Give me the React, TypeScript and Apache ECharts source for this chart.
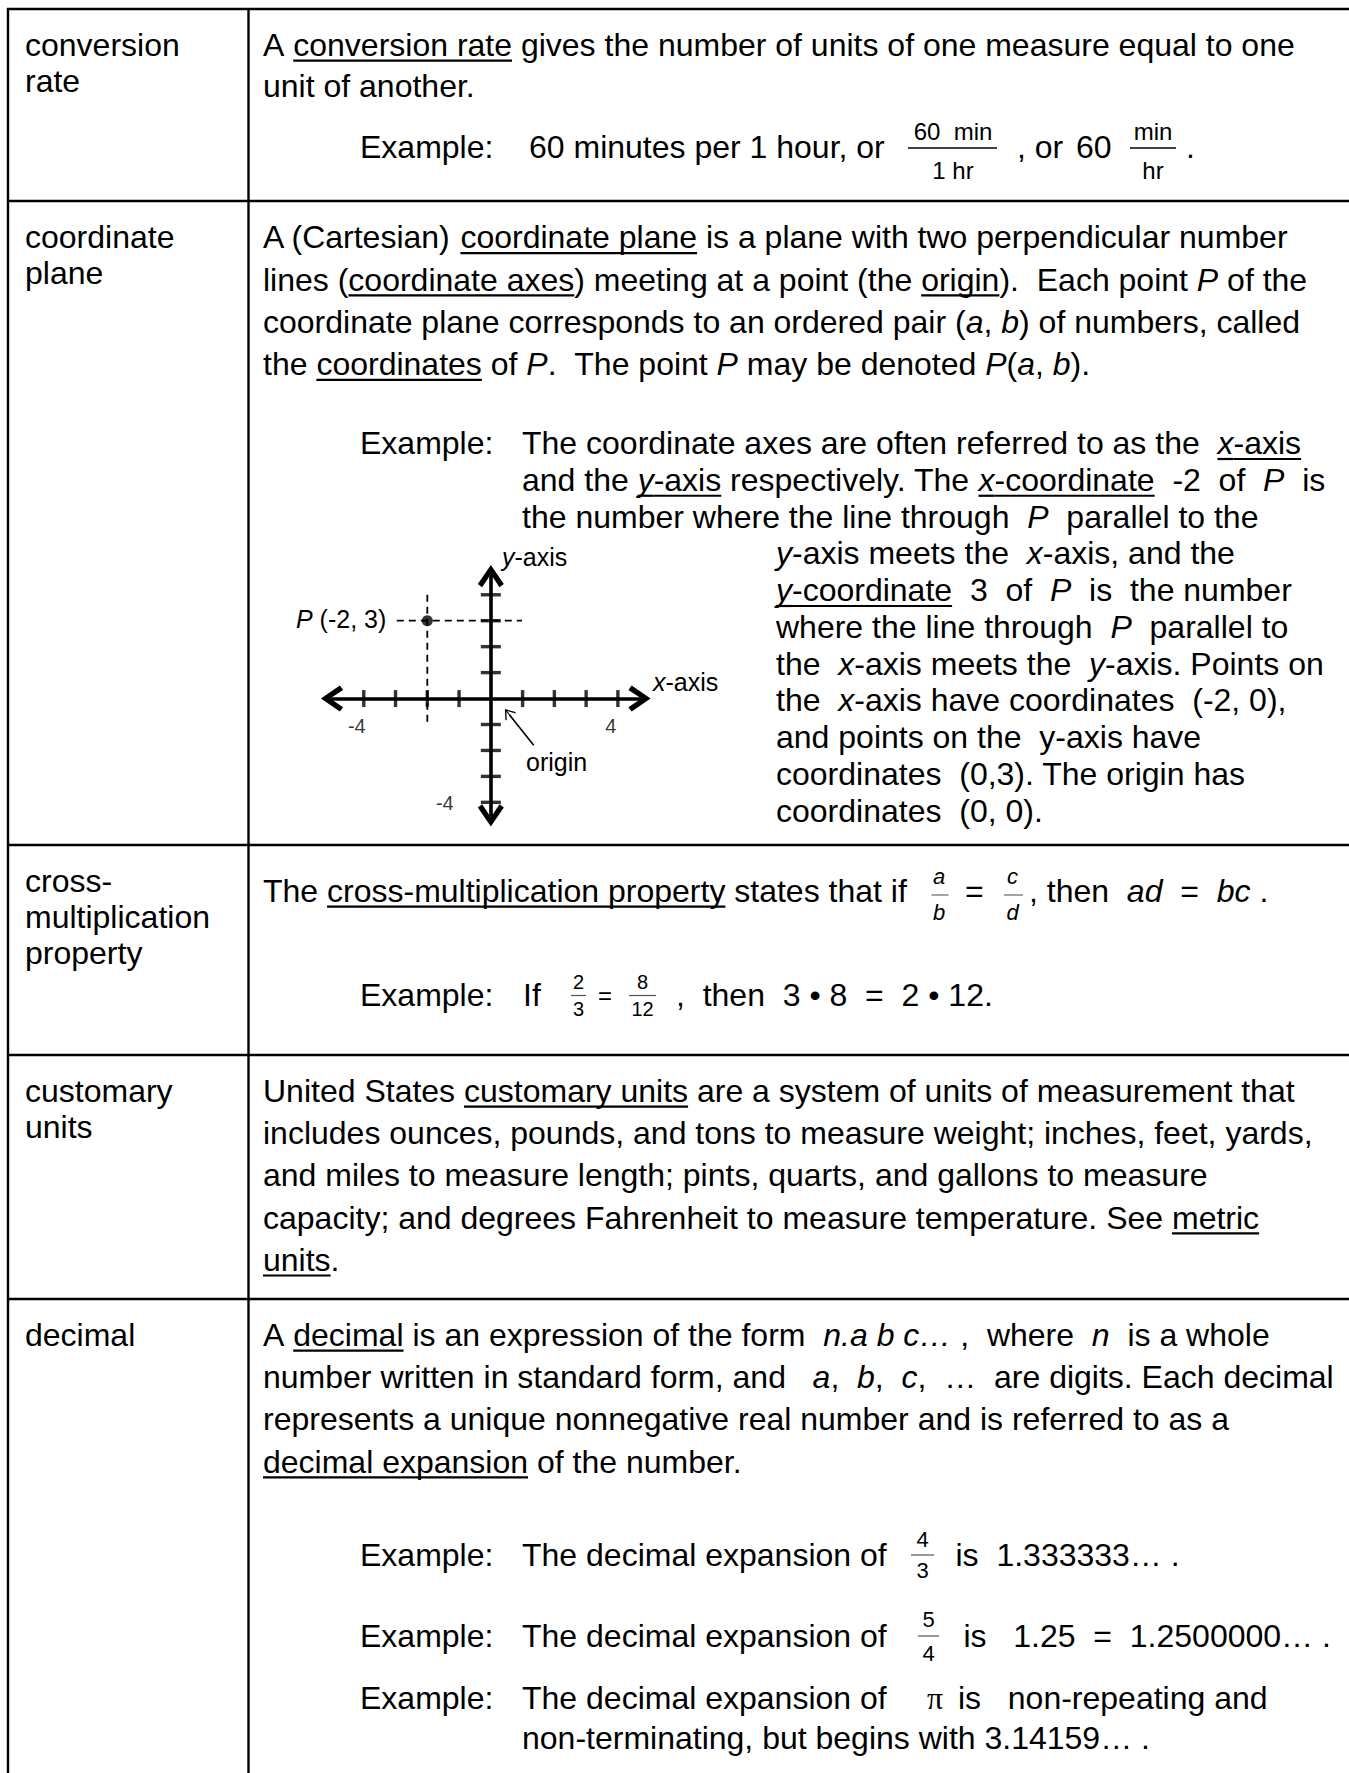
import React, { useEffect, useRef } from 'react';
import * as echarts from 'echarts';

const FONT = '"Liberation Sans", Arial, Helvetica, sans-serif';
const SERIF = '"Liberation Serif", "Times New Roman", serif';

// ---------- content ----------
const TERMS: string[][] = [
  ['conversion', 'rate'],
  ['coordinate', 'plane'],
  ['cross-', 'multiplication', 'property'],
  ['customary', 'units'],
  ['decimal'],
];

const CONVERSION_DEF = [
  'A _conversion rate_ gives the number of units of one measure equal to one',
  'unit of another.',
];
const CONVERSION_EXAMPLE = '60 minutes per 1 hour, or';
const CONVERSION_FRAC1 = ['60  min', '1 hr'];
const CONVERSION_MID = [', or', '60'];
const CONVERSION_FRAC2 = ['min', 'hr'];

const COORD_DEF = [
  'A (Cartesian) _coordinate plane_ is a plane with two perpendicular number',
  'lines (_coordinate axes_) meeting at a point (the _origin_).  Each point *P* of the',
  'coordinate plane corresponds to an ordered pair (*a*, *b*) of numbers, called',
  'the _coordinates_ of *P*.  The point *P* may be denoted *P*(*a*, *b*).',
];
const COORD_EXAMPLE_WIDE = [
  'The coordinate axes are often referred to as the  _*x*-axis_',
  'and the _*y*-axis_ respectively. The _*x*-coordinate_  -2  of  *P*  is',
  'the number where the line through  *P*  parallel to the',
];
const COORD_EXAMPLE_NARROW = [
  '*y*-axis meets the  *x*-axis, and the',
  '_*y*-coordinate_  3  of  *P*  is  the number',
  'where the line through  *P*  parallel to',
  'the  *x*-axis meets the  *y*-axis. Points on',
  'the  *x*-axis have coordinates  (-2, 0),',
  'and points on the  y-axis have',
  'coordinates  (0,3). The origin has',
  'coordinates  (0, 0).',
];
const FIGURE_LABELS = ['*P* (-2, 3)', '*y*-axis', '*x*-axis', 'origin'];

const CROSS_DEF_START = 'The _cross-multiplication property_ states that if';
const CROSS_FRACS = [['a', 'b'], ['c', 'd']];
const CROSS_DEF_END = ', then  *ad*  =  *bc* .';
const CROSS_EXAMPLE_FRACS = [['2', '3'], ['8', '12']];
const CROSS_EXAMPLE_END = ',  then  3 • 8  =  2 • 12.';

const CUSTOMARY_DEF = [
  'United States _customary units_ are a system of units of measurement that',
  'includes ounces, pounds, and tons to measure weight; inches, feet, yards,',
  'and miles to measure length; pints, quarts, and gallons to measure',
  'capacity; and degrees Fahrenheit to measure temperature. See _metric_',
  '_units_.',
];

const DECIMAL_DEF = [
  'A _decimal_ is an expression of the form  *n.a b c…* ,  where  *n*  is a whole',
  'number written in standard form, and   *a*,  *b*,  *c*,  …  are digits. Each decimal',
  'represents a unique nonnegative real number and is referred to as a',
  '_decimal expansion_ of the number.',
];
const DECIMAL_LEAD = 'The decimal expansion of';
const DECIMAL_FRACS = [['4', '3'], ['5', '4']];
const DECIMAL_TAILS = ['is  1.333333… .', 'is   1.25  =  1.2500000… .', 'is   non-repeating and'];
const DECIMAL_PI = 'π';
const DECIMAL_LAST = 'non-terminating, but begins with 3.14159… .';

// ---------- coordinate-plane figure data ----------
const X_TICKS = [-4, -3, -2, -1, 1, 2, 3, 4];
const Y_TICKS = [-4, -3, -2, -1, 1, 2, 3, 4];
const X_LABELS = [-4, 4];
const Y_LABELS = [-4];
const POINT_P = [-2, 3];
const DASH_H = [[-2.96, 3], [0.98, 3]];
const DASH_V = [[-2, 4.0], [-2, -0.9]];
const ORIGIN_ARROW = [[1.35, -1.8], [0.59, -0.63]];

const CHEVRON = 'path://M12 0 L24 17.5 L20 20.5 L12 8.5 L4 20.5 L0 17.5 Z';
const THIN_ARROW =
  'path://M10 0 L20 12 L18.6 13.4 L10 3 L1.4 13.4 L0 12 Z M9.2 1 L10.8 1 L10.8 20 L9.2 20 Z';

export default function App() {
  const ref = useRef<HTMLDivElement>(null);

  useEffect(() => {
    document.body.style.margin = '0';
    const el = ref.current!;
    const chart = echarts.init(el, null, { renderer: 'svg' });

    const ctx = document.createElement('canvas').getContext('2d')!;
    const measure = (s: string, size: number, italic: boolean, family = FONT) => {
      ctx.font = `${italic ? 'italic ' : ''}${size}px ${family}`;
      return ctx.measureText(s).width;
    };

    const G: any[] = [];
    const txt = (
      text: string,
      x: number,
      base: number,
      size: number,
      opt: { italic?: boolean; align?: string; family?: string } = {}
    ) => {
      const align = opt.align || 'left';
      G.push({
        type: 'text',
        silent: true,
        z: 10,
        style: {
          text,
          x,
          y: base - 0.3465 * size,
          fontSize: size,
          fontFamily: opt.family || FONT,
          fontStyle: opt.italic ? 'italic' : 'normal',
          fill: '#000',
          textAlign: align,
          align,
          textVerticalAlign: 'middle',
          verticalAlign: 'middle',
        },
      });
    };
    const hline = (x1: number, x2: number, y: number, w: number, color = '#000') => {
      G.push({ type: 'line', silent: true, z: 10, shape: { x1, y1: y, x2, y2: y }, style: { stroke: color, lineWidth: w } });
    };
    const vline = (x: number, y1: number, y2: number, w: number) => {
      G.push({ type: 'line', silent: true, z: 10, shape: { x1: x, y1, x2: x, y2 }, style: { stroke: '#000', lineWidth: w } });
    };

    // rich line: _ toggles underline, * toggles italic
    const rich = (markup: string, x0: number, base: number, size = 32) => {
      let u = false;
      let it = false;
      let buf = '';
      let x = x0;
      const sp = (n: number) => measure('\u00a0'.repeat(n), size, it);
      const flush = () => {
        if (!buf) return;
        const segStart = x;
        const parts = buf.split(/( {2,})/);
        for (const part of parts) {
          if (!part) continue;
          if (/^ +$/.test(part)) {
            x += sp(part.length);
            continue;
          }
          const lead = part.match(/^ */)![0].length;
          const trail = part.match(/ *$/)![0].length;
          const core = part.trim();
          if (lead) x += sp(lead);
          txt(core, x, base, size, { italic: it });
          x += measure(core, size, it);
          if (trail) x += sp(trail);
        }
        if (u) {
          G.push({
            type: 'rect',
            silent: true,
            z: 10,
            shape: { x: segStart, y: base + 3.6, width: x - segStart, height: 2.2 },
            style: { fill: '#000' },
          });
        }
        buf = '';
      };
      for (const ch of markup) {
        if (ch === '_') {
          flush();
          u = !u;
        } else if (ch === '*') {
          flush();
          it = !it;
        } else buf += ch;
      }
      flush();
      return x;
    };

    const frac = (
      num: string,
      den: string,
      cx: number,
      numBase: number,
      denBase: number,
      barY: number,
      bx1: number,
      bx2: number,
      size: number,
      italic: boolean,
      barColor: string,
      barW: number
    ) => {
      txt(num, cx, numBase, size, { italic, align: 'center' });
      txt(den, cx, denBase, size, { italic, align: 'center' });
      hline(bx1, bx2, barY, barW, barColor);
    };

    // ---------- table rules ----------
    const ROW_TOPS = [9, 201, 845, 1055, 1299];
    ROW_TOPS.forEach((y) => hline(7, 1349, y, 2.4));
    vline(8, 8, 1773, 2.4);
    vline(248.5, 8, 1773, 2.4);

    // ---------- term column ----------
    const TERM_BASES = [56, 248.5, 892, 1102, 1346];
    TERMS.forEach((lines, i) => lines.forEach((l, j) => txt(l, 25, TERM_BASES[i] + j * 36, 32)));

    const DX = 263;
    // ---------- row 1 ----------
    CONVERSION_DEF.forEach((l, i) => rich(l, DX, 56 + i * 41.5));
    txt('Example:', 360, 158, 32);
    txt(CONVERSION_EXAMPLE, 529, 158, 32);
    frac(CONVERSION_FRAC1[0], CONVERSION_FRAC1[1], 953, 140, 179, 148, 908, 997, 24, false, '#000', 1.6);
    txt(CONVERSION_MID[0], 1017, 158, 32);
    txt(CONVERSION_MID[1], 1076, 158, 32);
    frac(CONVERSION_FRAC2[0], CONVERSION_FRAC2[1], 1153, 140, 179, 148, 1130, 1176, 24, false, '#000', 1.6);
    txt('.', 1186, 158, 32);

    // ---------- row 2 ----------
    COORD_DEF.forEach((l, i) => rich(l, DX, 248.5 + i * 42.2));
    txt('Example:', 360, 454.3, 32);
    COORD_EXAMPLE_WIDE.forEach((l, i) => rich(l, 522, 454.3 + i * 36.75));
    COORD_EXAMPLE_NARROW.forEach((l, i) => rich(l, 776, 454.3 + (i + 3) * 36.75));
    rich(FIGURE_LABELS[0], 296, 627.5, 25);
    rich(FIGURE_LABELS[1], 502, 566, 25);
    rich(FIGURE_LABELS[2], 653, 691, 25);
    rich(FIGURE_LABELS[3], 526, 771, 25);

    // ---------- row 3 ----------
    rich(CROSS_DEF_START, DX, 902);
    frac(CROSS_FRACS[0][0], CROSS_FRACS[0][1], 939, 884, 920, 895, 931.5, 948.5, 22, true, '#666', 1.2);
    txt('=', 965, 902, 32);
    frac(CROSS_FRACS[1][0], CROSS_FRACS[1][1], 1012.5, 884, 920, 895, 1004, 1023, 22, true, '#666', 1.2);
    rich(CROSS_DEF_END, 1029, 902);
    txt('Example:', 360, 1006, 32);
    txt('If', 523, 1006, 32);
    frac(CROSS_EXAMPLE_FRACS[0][0], CROSS_EXAMPLE_FRACS[0][1], 578.5, 989, 1016, 995.5, 571, 586, 20, false, '#555', 1.2);
    txt('=', 605, 1004, 24, { align: 'center' });
    frac(CROSS_EXAMPLE_FRACS[1][0], CROSS_EXAMPLE_FRACS[1][1], 642.5, 989, 1016, 995.5, 629, 656, 20, false, '#555', 1.2);
    rich(CROSS_EXAMPLE_END, 676, 1006);

    // ---------- row 4 ----------
    CUSTOMARY_DEF.forEach((l, i) => rich(l, DX, 1102 + i * 42.2));

    // ---------- row 5 ----------
    DECIMAL_DEF.forEach((l, i) => rich(l, DX, 1346 + i * 42.2));
    const EX_BASES = [1566, 1647, 1709.5];
    EX_BASES.forEach((b) => {
      txt('Example:', 360, b, 32);
      txt(DECIMAL_LEAD, 522, b, 32);
    });
    frac(DECIMAL_FRACS[0][0], DECIMAL_FRACS[0][1], 922.5, 1547, 1578, 1555, 911, 934, 22, false, '#555', 1.2);
    rich(DECIMAL_TAILS[0], 955.5, 1566);
    frac(DECIMAL_FRACS[1][0], DECIMAL_FRACS[1][1], 928.5, 1627, 1661, 1636, 918, 939, 22, false, '#555', 1.2);
    rich(DECIMAL_TAILS[1], 963.5, 1647);
    txt(DECIMAL_PI, 927, 1709.5, 32, { family: SERIF });
    rich(DECIMAL_TAILS[2], 958, 1709.5);
    rich(DECIMAL_LAST, 522, 1749);

    // ---------- coordinate-plane figure (real axes) ----------
    const labelStyle = { color: '#000', fontSize: 20, fontFamily: FONT };
    const axisCommon = {
      type: 'value',
      axisLine: {
        show: true,
        onZero: true,
        symbol: [CHEVRON, CHEVRON],
        symbolSize: [26, 24],
        lineStyle: { color: '#000', width: 3.6 },
      },
      axisTick: { show: false },
      splitLine: { show: false },
      axisLabel: { show: false },
    };
    const option: any = {
      animation: false,
      backgroundColor: '#ffffff',
      grid: { left: 332, top: 576.1, width: 307.5, height: 239.2, containLabel: false },
      xAxis: { ...axisCommon, min: -5, max: 4.68 },
      yAxis: { ...axisCommon, min: -4.5, max: 4.72 },
      series: [
        {
          type: 'scatter',
          data: X_TICKS.map((v) => [v, 0]),
          symbol: 'rect',
          symbolSize: [3.4, 17],
          itemStyle: { color: '#000' },
          silent: true,
          z: 3,
          markLine: {
            silent: true,
            symbol: ['none', THIN_ARROW],
            symbolSize: [13, 15],
            lineStyle: { color: '#000', width: 1.6, type: 'solid' },
            label: { show: false },
            emphasis: { disabled: true },
            data: [[{ coord: ORIGIN_ARROW[0] }, { coord: ORIGIN_ARROW[1] }]],
          },
        },
        {
          type: 'scatter',
          data: Y_TICKS.map((v) => [0, v]),
          symbol: 'rect',
          symbolSize: [20, 3.4],
          itemStyle: { color: '#000' },
          silent: true,
          z: 3,
        },
        {
          type: 'scatter',
          data: X_LABELS.map((v) => [v, 0]),
          symbolSize: 1,
          itemStyle: { color: 'rgba(0,0,0,0)' },
          silent: true,
          z: 6,
          label: {
            show: true,
            position: 'inside',
            offset: [-7, 27],
            formatter: (p: any) => String(p.value[0]),
            ...labelStyle,
          },
        },
        {
          type: 'scatter',
          data: Y_LABELS.map((v) => [0, v]),
          symbolSize: 1,
          itemStyle: { color: 'rgba(0,0,0,0)' },
          silent: true,
          z: 6,
          label: {
            show: true,
            position: 'inside',
            offset: [-46, 1],
            formatter: (p: any) => String(p.value[1]),
            ...labelStyle,
          },
        },
        {
          type: 'line',
          data: DASH_H,
          symbol: 'none',
          showSymbol: false,
          silent: true,
          lineStyle: { color: '#000', width: 1.8, type: [7, 5] },
          z: 2,
        },
        {
          type: 'line',
          data: DASH_V,
          symbol: 'none',
          showSymbol: false,
          silent: true,
          lineStyle: { color: '#000', width: 1.8, type: [7, 5] },
          z: 2,
        },
        {
          type: 'scatter',
          data: [POINT_P],
          symbol: 'circle',
          symbolSize: 11,
          itemStyle: { color: '#000' },
          silent: true,
          z: 5,
        },
      ],
      graphic: { elements: G },
    };

    chart.setOption(option);
    return () => chart.dispose();
  }, []);

  return (
    <div
      ref={ref}
      style={{ position: 'absolute', left: 0, top: 0, width: 1349, height: 1773, background: '#fff' }}
    />
  );
}
